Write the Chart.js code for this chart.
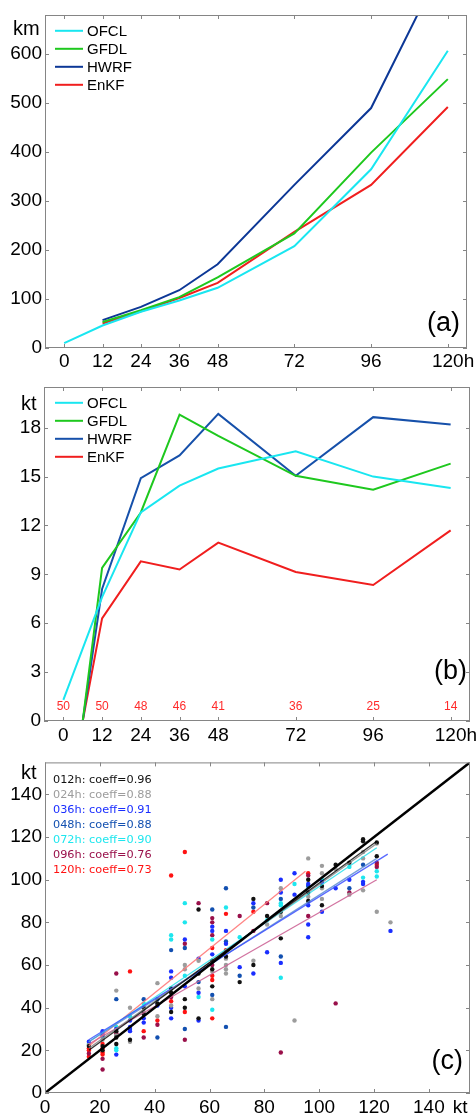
<!DOCTYPE html>
<html>
<head>
<meta charset="utf-8">
<script src="https://cdn.jsdelivr.net/npm/chart.js@4.4.1/dist/chart.umd.min.js"></script>
<style>
   html, body { margin: 0; padding: 0; background: #fff; }
   body { width: 476px; height: 1115px; position: relative; overflow: hidden; }
   canvas { position: absolute; left: 0; }
</style>
</head>
<body>
<canvas id="trackChart" width="476" height="370" style="top:0px"></canvas>
<canvas id="intensityChart" width="476" height="378" style="top:370px"></canvas>
<canvas id="scatterChart" width="476" height="367" style="top:748px"></canvas>
<script>
/*=================================>> DATA  <<=================================*/

const hours = [0, 12, 24, 36, 48, 72, 96, 120];
const modelNames = ["OFCL", "GFDL", "HWRF", "EnKF"];

// (a) track error, km
const trackOFCL = [10, 46, 74, 97, 123, 208, 365, 607];
const trackGFDL = [null, 53, 77, 104, 144, 234, 399, 549];
const trackHWRF = [null, 57, 84, 118, 171, 333, 490, 805];
const trackEnKF = [null, 50, 75, 102, 133, 237, 333, 492];
const trackTicks = [0, 100, 200, 300, 400, 500, 600];

// (b) intensity error, kt
const intOFCL = [1.3, 7.6, 12.8, 14.45, 15.5, 16.55, 15.0, 14.3];
const intGFDL = [-9.4, 9.4, 12.8, 18.8, 17.5, 15.05, 14.2, 15.8];
const intHWRF = [-8.1, 8.1, 14.9, 16.3, 18.85, 15.05, 18.65, 18.2];
const intEnKF = [-6.3, 6.3, 9.8, 9.3, 10.95, 9.15, 8.35, 11.7];
const caseCounts = [50, 50, 48, 46, 41, 36, 25, 14];
const intensityTicks = [0, 3, 6, 9, 12, 15, 18];

// (c) observed vs forecast intensity, kt  [obs, fcst]
const leadNames = ["012h", "024h", "036h", "048h", "072h", "096h", "120h"];
const coeffs = [0.96, 0.88, 0.91, 0.88, 0.90, 0.76, 0.73];
const pts012 = [[16,22],[21,22],[21,20],[26,29],[26,26],[26,23],[31,25],[36,40],[36,37],[41,42],[46,49],[46,47],[46,38],[51,44],[51,40],[56,86],[56,56],[56,35],[61,62],[61,58],[61,50],[66,64],[71,52],[76,91],[76,60],[81,83],[86,85],[86,72.5],[96,100],[96,94],[96,90],[101,97],[101,88],[106,107],[111,108],[116,119],[116,118],[121,117.5],[121,111]];
const pts024 = [[16,22.5],[21,25],[26,48],[26,27],[31,40],[31,24],[36,38],[41,51.5],[41,36],[46,41],[51,60],[51,58],[56,62],[56,49],[61,44],[61,57],[66,63],[66,60],[66,58],[66,56],[76,62],[81,79],[86,96],[86,83],[91,34],[96,110],[96,92],[101,106.5],[101,103],[101,96],[101,91],[106,105],[111,93],[116,113],[116,110],[116,95],[121,117],[121,85],[126,80]];
const pts036 = [[16,24],[21,29],[21,28],[26,30],[26,18],[31,34],[31,31],[31,29],[36,35],[36,33],[41,41],[46,57],[46,54],[46,40],[46,35],[51,72],[51,50],[56,63],[56,47],[56,34],[61,78],[61,76],[61,65],[66,76],[66,70],[71,59],[76,89],[76,56],[81,66],[86,100],[86,94],[86,61],[91,103],[91,93],[96,98],[96,88],[96,79],[96,73],[101,99],[101,85],[106,96],[111,100],[116,99],[116,98],[126,76]];
const pts048 = [[21,27],[26,44],[31,30],[36,44],[41,44],[41,26],[46,67],[51,68],[51,30],[56,52],[61,86],[61,46],[66,96],[66,71],[66,31],[71,55],[76,87],[86,91],[86,64],[96,97],[111,96],[116,107]];
const pts072 = [[16,23],[21,26],[26,31],[26,21],[26,20],[31,36],[36,42],[46,74],[46,72],[51,89],[51,80],[51,55],[56,45],[61,72],[61,39],[66,87],[71,73],[81,81],[86,89],[86,88],[86,54],[91,98],[96,97],[101,100],[111,106],[116,101],[121,104],[121,101.5]];
const pts096 = [[16,18.5],[21,16],[21,11],[26,56],[26,28],[36,26],[41,32],[46,45],[51,70],[51,25],[56,89],[61,82],[61,80],[61,74],[61,60],[71,83],[76,76],[81,89],[86,19],[96,102],[96,83],[106,42],[111,94],[121,108],[121,106]];
const pts120 = [[16,21],[16,20],[16,17],[21,23],[21,21],[21,19],[21,18],[31,57],[36,29],[41,34],[46,102],[46,43],[51,113],[51,38],[61,68],[61,55],[61,53],[61,35],[66,84],[66,67],[76,85],[96,103],[121,107]];
// regression lines, end points
const fit012 = [[16,20],[121,118]];
const fit024 = [[16,21],[121,117]];
const fit036 = [[16,25],[125,112]];
const fit048 = [[16,24],[121,110]];
const fit072 = [[16,24],[121,115]];
const fit096 = [[16,23],[121,100]];
const fit120 = [[16,22],[95,104]];
const diagonal = [[0,0],[160,160]];
const scatterTicks = [0, 20, 40, 60, 80, 100, 120, 140];

/*=================================>> STYLE  <<=================================*/

const SANS = '"Liberation Sans", Arial, Helvetica, sans-serif';
const trackColors = ["#19e6f0", "#1ec81e", "#0c3796", "#f01e1e"];
const intColors = ["#19e6f0", "#1ec81e", "#1650aa", "#f01e1e"];
const leadColors = ["#111111", "#9c9c9c", "#1a2eff", "#1250b0", "#1ee6ee", "#99104a", "#ff1212"];
const fitColors = ["rgba(0,0,0,0.8)", "rgba(130,130,130,0.85)", "rgba(60,80,255,0.85)",
   "rgba(90,140,210,0.85)", "rgba(40,225,235,0.85)", "rgba(205,100,150,0.9)", "rgba(255,120,120,0.9)"];

Chart.defaults.font.family = SANS;
Chart.defaults.color = "#000";
Chart.defaults.devicePixelRatio = 1;

const pairs = (xs, ys) => xs.map((x, i) => ({ x: x, y: ys[i] }));
const toXY = list => list.map(p => ({ x: p[0], y: p[1] }));

// gray box with inward ticks on every side
const framePlugin = {
   id: "frame",
   afterDatasetsDraw(chart) {
      const { ctx, chartArea: a, scales } = chart;
      ctx.save();
      ctx.strokeStyle = "#858585";
      ctx.lineWidth = 1;
      ctx.strokeRect(a.left + 0.5, a.top + 0.5, a.right - a.left - 1, a.bottom - a.top - 1);
      ctx.beginPath();
      scales.x.ticks.forEach(t => {
         const px = Math.round(scales.x.getPixelForValue(t.value)) + 0.5;
         ctx.moveTo(px, a.bottom); ctx.lineTo(px, a.bottom - 4);
         ctx.moveTo(px, a.top); ctx.lineTo(px, a.top + 4);
      });
      scales.y.ticks.forEach(t => {
         const py = Math.round(scales.y.getPixelForValue(t.value)) + 0.5;
         ctx.moveTo(a.left, py); ctx.lineTo(a.left + 4, py);
         ctx.moveTo(a.right, py); ctx.lineTo(a.right - 4, py);
      });
      ctx.stroke();
      ctx.restore();
   }
};

function notesPlugin(cfg) {
   return {
      id: "notes",
      afterDraw(chart) {
         const { ctx, chartArea: a, scales } = chart;
         ctx.save();
         ctx.fillStyle = "#000";
         ctx.textAlign = "left";
         ctx.textBaseline = "alphabetic";
         ctx.font = "20px " + SANS;
         ctx.fillText(cfg.unit, cfg.unitX, a.top + cfg.unitDy);

         // suffix after last x tick label
         ctx.font = "19px " + SANS;
         ctx.textBaseline = "middle";
         const lastTick = scales.x.ticks[scales.x.ticks.length - 1];
         const lastLabel = String(lastTick.label);
         const sx = scales.x.getPixelForValue(lastTick.value) + ctx.measureText(lastLabel).width / 2;
         ctx.fillText(cfg.xSuffix, sx + (cfg.suffixGap || 0), a.bottom + cfg.tickPad + 11.4);

         // panel letter
         ctx.font = "27px " + SANS;
         ctx.textAlign = "right";
         ctx.textBaseline = "alphabetic";
         ctx.fillText(cfg.letter, a.right - cfg.letterDx, a.bottom - cfg.letterDy);

         if (cfg.legend) cfg.legend(ctx, a, chart);
         if (cfg.extra) cfg.extra(ctx, a, scales);
         ctx.restore();
      }
   };
}

function modelLegend(ctx, a, chart) {
   ctx.font = "15px " + SANS;
   ctx.textAlign = "left";
   ctx.textBaseline = "middle";
   chart.data.datasets.forEach((ds, i) => {
      const yy = a.top + 15.8 + i * 18;
      ctx.strokeStyle = ds.borderColor;
      ctx.lineWidth = 2;
      ctx.beginPath();
      ctx.moveTo(55, yy); ctx.lineTo(83, yy);
      ctx.stroke();
      ctx.fillStyle = "#000";
      ctx.fillText(ds.label, 87, yy + 1);
   });
}

function axisOptions(min, max, tickValues, pad, fitSize, isX) {
   return {
      type: "linear",
      min: min,
      max: max,
      grid: { display: false, drawTicks: false },
      border: { display: false },
      afterBuildTicks: s => { s.ticks = tickValues.map(v => ({ value: v })); },
      afterFit: s => { if (isX) s.height = fitSize; else s.width = fitSize; },
      ticks: {
         font: { size: 19, family: SANS },
         color: "#000",
         padding: pad,
         autoSkip: false,
         maxRotation: 0,
         callback: v => String(v)
      }
   };
}

/*=================================>> CHARTS  <<=================================*/

function lineSet(label, values, color) {
   return {
      label: label,
      data: pairs(hours, values),
      borderColor: color,
      backgroundColor: color,
      borderWidth: 2,
      pointRadius: 0,
      tension: 0,
      spanGaps: false
   };
}

(function drawTrack() {
   new Chart(document.querySelector("#trackChart"), {
      type: "line",
      data: {
         datasets: [
            lineSet(modelNames[0], trackOFCL, trackColors[0]),
            lineSet(modelNames[1], trackGFDL, trackColors[1]),
            lineSet(modelNames[2], trackHWRF, trackColors[2]),
            lineSet(modelNames[3], trackEnKF, trackColors[3])
         ]
      },
      options: {
         responsive: false,
         animation: false,
         layout: { padding: { top: 15, right: 9, left: 0, bottom: 0 } },
         plugins: { legend: { display: false }, tooltip: { enabled: false } },
         scales: {
            x: axisOptions(-6, 126, hours, 2, 22, true),
            y: axisOptions(0, 680, trackTicks, 3, 45, false)
         }
      },
      plugins: [framePlugin, notesPlugin({
         unit: "km", unitX: 13, unitDy: 20,
         xSuffix: "h", tickPad: 2,
         letter: "(a)", letterDx: 7, letterDy: 17,
         legend: modelLegend
      })]
   });
})();

(function drawIntensity() {
   new Chart(document.querySelector("#intensityChart"), {
      type: "line",
      data: {
         datasets: [
            lineSet(modelNames[0], intOFCL, intColors[0]),
            lineSet(modelNames[1], intGFDL, intColors[1]),
            lineSet(modelNames[2], intHWRF, intColors[2]),
            lineSet(modelNames[3], intEnKF, intColors[3])
         ]
      },
      options: {
         responsive: false,
         animation: false,
         layout: { padding: { top: 17, right: 6, left: 0, bottom: 0 } },
         plugins: { legend: { display: false }, tooltip: { enabled: false } },
         scales: {
            x: axisOptions(-6, 126, hours, 3, 27, true),
            y: axisOptions(0, 20.5, intensityTicks, 3, 44, false)
         }
      },
      plugins: [framePlugin, notesPlugin({
         unit: "kt", unitX: 21, unitDy: 23,
         xSuffix: "h", tickPad: 3,
         letter: "(b)", letterDx: 3, letterDy: 42,
         legend: modelLegend,
         extra: (ctx, a, scales) => {
            ctx.font = "12px " + SANS;
            ctx.fillStyle = "#ff2a2a";
            ctx.textAlign = "center";
            ctx.textBaseline = "middle";
            hours.forEach((h, i) => {
               ctx.fillText(String(caseCounts[i]), scales.x.getPixelForValue(h), scales.y.getPixelForValue(0.86));
            });
         }
      })]
   });
})();

(function drawScatter() {
   const pointSets = [pts012, pts024, pts036, pts048, pts072, pts096, pts120];
   const fitSets = [fit012, fit024, fit036, fit048, fit072, fit096, fit120];
   const datasets = [{
      label: "y=x",
      data: toXY(diagonal),
      showLine: true,
      borderColor: "#000",
      borderWidth: 2.5,
      pointRadius: 0,
      order: 0
   }];
   fitSets.forEach((f, i) => datasets.push({
      label: leadNames[i] + " fit",
      data: toXY(f),
      showLine: true,
      borderColor: fitColors[i],
      borderWidth: 1.3,
      pointRadius: 0,
      order: 1
   }));
   pointSets.forEach((p, i) => datasets.push({
      label: leadNames[i],
      data: toXY(p),
      backgroundColor: leadColors[i],
      borderWidth: 0,
      pointRadius: 2.2,
      order: 2
   }));

   new Chart(document.querySelector("#scatterChart"), {
      type: "scatter",
      data: { datasets: datasets },
      options: {
         responsive: false,
         animation: false,
         layout: { padding: { top: 12, right: 6, left: 0, bottom: 0 } },
         plugins: { legend: { display: false }, tooltip: { enabled: false } },
         scales: {
            x: axisOptions(0, 155, scatterTicks, 3, 22, true),
            y: axisOptions(0, 155, scatterTicks, 3, 45, false)
         }
      },
      plugins: [framePlugin, notesPlugin({
         unit: "kt", unitX: 21, unitDy: 17,
         xSuffix: "kt", tickPad: 3, suffixGap: 8,
         letter: "(c)", letterDx: 7, letterDy: 24,
         extra: (ctx, a) => {
            ctx.font = "11.3px DejaVu Sans, sans-serif";
            ctx.textAlign = "left";
            ctx.textBaseline = "alphabetic";
            leadNames.forEach((name, i) => {
               ctx.fillStyle = leadColors[i];
               ctx.fillText(name + ": coeff=" + coeffs[i].toFixed(2), 53, a.top + 20.3 + i * 15);
            });
         }
      })]
   });
})();
</script>
</body>
</html>
